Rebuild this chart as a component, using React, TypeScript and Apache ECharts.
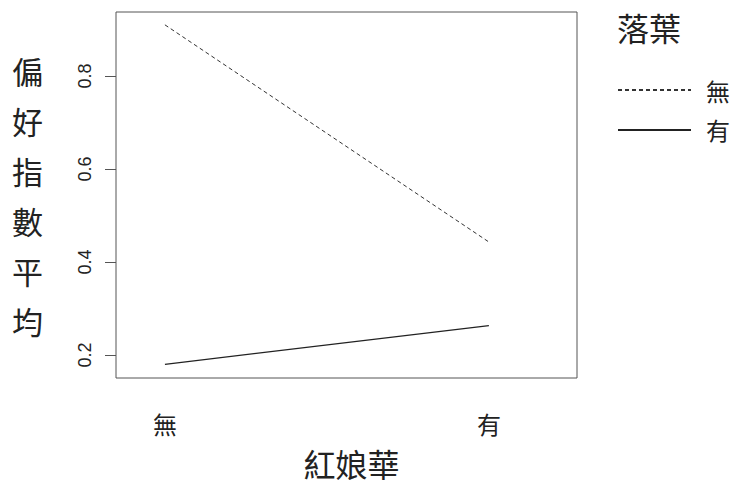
import React, { useEffect, useRef } from 'react';
import * as echarts from 'echarts';

// 紅娘華 levels on the x axis
const categories = ['無', '有'];
// mean preference index, one line per 落葉 level
const seriesNames = ['無', '有'];
const noLeafValues = [0.91, 0.443];
const withLeafValues = [0.18, 0.263];
const yTicks = [0.2, 0.4, 0.6, 0.8];

const cjk = '"Noto Sans CJK TC", "Noto Sans CJK SC", sans-serif';
const latin = '"Liberation Sans", Arial, sans-serif';

const toPairs = (vals: number[]) => vals.map((v, i) => [i + 1, v]);

const App = () => {
    const chartRef = useRef<HTMLDivElement>(null);

    useEffect(() => {
        if (!chartRef.current) return;
        const myChart = echarts.init(chartRef.current, null, { renderer: 'svg' });

        const option = {
            animation: false,
            backgroundColor: '#fff',
            title: {
                text: '落葉',
                left: 612,
                top: 6,
                textStyle: { fontFamily: cjk, fontSize: 32, fontWeight: 'normal', color: '#222' }
            },
            legend: {
                orient: 'vertical',
                left: 617,
                top: 78,
                padding: 0,
                itemWidth: 73,
                itemHeight: 14,
                itemGap: 16,
                data: seriesNames,
                itemStyle: { opacity: 0 },
                textStyle: { fontFamily: cjk, fontSize: 24, color: '#222', padding: [0, 0, 0, 10] }
            },
            grid: {
                show: true,
                left: 116,
                top: 12,
                right: 163,
                bottom: 113,
                borderColor: '#555',
                borderWidth: 1
            },
            xAxis: {
                type: 'value',
                min: 0.849,
                max: 2.272,
                name: '紅娘華',
                nameLocation: 'middle',
                nameGap: 69,
                nameTextStyle: { fontFamily: cjk, fontSize: 32, color: '#222', padding: [0, 0, 0, 10] },
                axisLine: { show: false },
                axisTick: { show: false },
                splitLine: { show: false },
                axisLabel: {
                    customValues: [1, 2],
                    formatter: (v: number) => categories[Math.round(v) - 1] ?? '',
                    margin: 33,
                    fontFamily: cjk,
                    fontSize: 24,
                    color: '#222'
                }
            },
            yAxis: {
                type: 'value',
                min: 0.1505,
                max: 0.9376,
                name: '偏\n好\n指\n數\n平\n均',
                nameLocation: 'middle',
                nameRotate: 0,
                nameGap: 73,
                nameTextStyle: {
                    fontFamily: cjk,
                    fontSize: 31,
                    lineHeight: 50,
                    color: '#222',
                    padding: [0, 0, 9, 0]
                },
                axisLine: { show: false },
                axisTick: {
                    show: true,
                    customValues: yTicks,
                    length: 11,
                    lineStyle: { color: '#555' }
                },
                splitLine: { show: false },
                axisLabel: {
                    customValues: yTicks,
                    formatter: (v: number) => v.toFixed(1),
                    rotate: 90,
                    margin: 22,
                    fontFamily: latin,
                    fontSize: 18,
                    color: '#222'
                }
            },
            series: [
                {
                    name: seriesNames[0],
                    type: 'line',
                    data: toPairs(noLeafValues),
                    symbol: 'none',
                    lineStyle: { color: '#333', width: 1, type: [4, 3] },
                    itemStyle: { color: '#333' }
                },
                {
                    name: seriesNames[1],
                    type: 'line',
                    data: toPairs(withLeafValues),
                    symbol: 'none',
                    lineStyle: { color: '#222', width: 1.2 },
                    itemStyle: { color: '#222' }
                }
            ]
        };

        myChart.setOption(option);

        return () => {
            myChart.dispose();
        };
    }, []);

    return (
        <div
            ref={chartRef}
            style={{ position: 'fixed', left: 0, top: 0, width: '740px', height: '491px' }}
        />
    );
};

export default App;
